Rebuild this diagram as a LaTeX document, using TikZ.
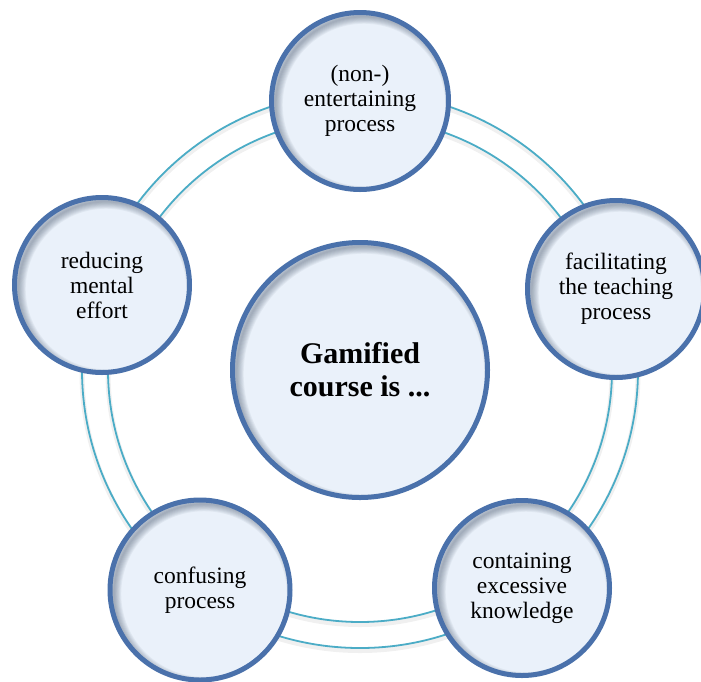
\documentclass[tikz,border=0pt]{standalone}
\usepackage{fontspec}
\setmainfont{Liberation Serif}
\definecolor{ringc}{HTML}{4BACC6}
\definecolor{bubfill}{HTML}{EAF1FA}
\definecolor{bubdraw}{HTML}{4A71AB}
\definecolor{shadowc}{HTML}{3A4A60}
\tikzset{
  bub/.style={circle, inner sep=0pt, minimum size=#1, fill=bubfill,
    align=center, font=\fontsize{23.5}{25}\selectfont},
  bubedge/.style={draw=bubdraw, line width=5pt},
  innershade/.style={shadowc, opacity=0.06},
  ringline/.style={draw=ringc, line width=1.8pt},
  ringshadow/.style={draw=black, opacity=0.06, line width=5pt},
}
\newcommand{\mybubshade}[2]{%
  \begin{scope}
    \clip (#1.center) circle[radius=#2];
    \foreach \k [evaluate=\k as \lw using 1.8*\k] in {1,...,8} {
      \draw[innershade, line width=\lw pt] ([shift={(4,4)}]#1.center) circle[radius=#2];
    }
  \end{scope}
  \draw[bubedge] (#1.center) circle[radius=#2];
}
\begin{document}
\begin{tikzpicture}[x=1pt, y=-1pt]
  \useasboundingbox (0,0) rectangle (701,681);
  \coordinate (c) at (360,370);
  \coordinate (cs) at (360,372.5);
  % ring shadows
  \draw[ringshadow] (cs) circle[radius=252pt];
  \draw[ringshadow] (cs) circle[radius=278pt];
  % ring lines
  \draw[ringline] (c) circle[radius=252pt];
  \draw[ringline] (c) circle[radius=278pt];
  % bubbles
  \node[bub=177pt] (top) at (360,101) {(non-)\\entertaining\\process};
  \mybubshade{top}{88.5pt}
  \node[bub=177pt] (right) at (616,289) {facilitating\\the teaching\\process};
  \mybubshade{right}{88.5pt}
  \node[bub=175pt] (br) at (522,588) {containing\\excessive\\knowledge};
  \mybubshade{br}{87.5pt}
  \node[bub=180pt] (bl) at (200,590) {confusing\\process};
  \mybubshade{bl}{90pt}
  \node[bub=175pt] (left) at (102,285) {reducing\\mental\\effort};
  \mybubshade{left}{87.5pt}
  \node[bub=255pt, font=\fontsize{30}{33}\selectfont\bfseries] (ctr) at (c) {Gamified\\course is ...};
  \mybubshade{ctr}{127.5pt}
\end{tikzpicture}
\end{document}
